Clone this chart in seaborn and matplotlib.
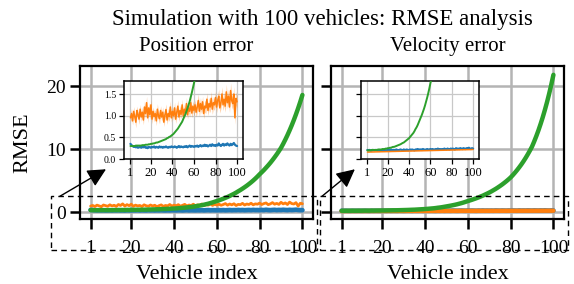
import numpy as np
import pandas as pd
import matplotlib
matplotlib.use("Agg")
import matplotlib.pyplot as plt
import seaborn as sns
from matplotlib.patches import Rectangle

# ---------------- data ----------------
vehicle_index = list(range(1, 101))
xtick_values = [1, 20, 40, 60, 80, 100]
ytick_values = [0, 10, 20]
inset_ytick_values = [0.0, 0.5, 1.0, 1.5]
series_names = ["Blue", "Orange", "Green"]

pos_blue = [0.35, 0.32, 0.30, 0.28, 0.29, 0.27, 0.28, 0.26, 0.27, 0.28,
            0.26, 0.28, 0.27, 0.29, 0.26, 0.27, 0.25, 0.28, 0.27, 0.26,
            0.28, 0.27, 0.29, 0.26, 0.28, 0.27, 0.26, 0.29, 0.27, 0.28,
            0.26, 0.28, 0.27, 0.29, 0.27, 0.26, 0.28, 0.27, 0.29, 0.28,
            0.27, 0.29, 0.28, 0.26, 0.28, 0.30, 0.27, 0.29, 0.28, 0.27,
            0.29, 0.28, 0.30, 0.27, 0.29, 0.31, 0.28, 0.30, 0.29, 0.28,
            0.30, 0.29, 0.31, 0.28, 0.30, 0.32, 0.29, 0.31, 0.30, 0.33,
            0.30, 0.32, 0.29, 0.31, 0.33, 0.30, 0.34, 0.31, 0.32, 0.30,
            0.33, 0.31, 0.36, 0.32, 0.30, 0.33, 0.35, 0.31, 0.34, 0.32,
            0.36, 0.33, 0.31, 0.35, 0.32, 0.34, 0.37, 0.33, 0.31, 0.30]

pos_orange = [0.95, 1.05, 0.88, 1.10, 0.98, 0.85, 1.12, 1.02, 0.92, 1.15,
              0.97, 1.08, 0.90, 1.20, 1.05, 1.30, 0.95, 1.18, 1.02, 1.25,
              0.92, 1.10, 0.98, 1.05, 0.88, 1.15, 1.00, 0.93, 1.12, 0.97,
              1.08, 0.85, 1.02, 1.14, 0.90, 1.05, 0.98, 1.20, 0.95, 1.10,
              1.00, 1.18, 0.92, 1.08, 1.22, 0.97, 1.12, 1.03, 1.25, 0.99,
              1.15, 1.05, 1.28, 1.02, 1.18, 1.10, 1.30, 1.06, 1.22, 1.12,
              1.25, 1.08, 1.20, 1.35, 1.10, 1.28, 1.15, 1.32, 1.05, 1.22,
              1.18, 1.38, 1.12, 1.28, 1.20, 1.40, 1.15, 1.30, 1.25, 1.42,
              1.20, 1.35, 1.45, 1.18, 1.30, 1.50, 1.25, 1.38, 1.22, 1.55,
              1.30, 1.45, 1.20, 1.58, 1.35, 1.28, 1.50, 0.95, 1.40, 1.32]

pos_orange_ci = [0.10, 0.12, 0.09, 0.11, 0.10, 0.13, 0.10, 0.09, 0.12, 0.11,
                 0.10, 0.12, 0.11, 0.14, 0.10, 0.15, 0.11, 0.12, 0.10, 0.13,
                 0.11, 0.10, 0.12, 0.09, 0.11, 0.13, 0.10, 0.12, 0.11, 0.10,
                 0.12, 0.10, 0.11, 0.13, 0.10, 0.12, 0.11, 0.14, 0.10, 0.12,
                 0.11, 0.13, 0.10, 0.12, 0.14, 0.11, 0.12, 0.10, 0.13, 0.11,
                 0.12, 0.11, 0.14, 0.10, 0.12, 0.13, 0.15, 0.11, 0.12, 0.13,
                 0.12, 0.11, 0.13, 0.15, 0.12, 0.14, 0.11, 0.13, 0.12, 0.14,
                 0.13, 0.15, 0.12, 0.14, 0.13, 0.16, 0.12, 0.14, 0.13, 0.15,
                 0.13, 0.14, 0.16, 0.12, 0.14, 0.17, 0.13, 0.15, 0.14, 0.18,
                 0.14, 0.16, 0.13, 0.18, 0.15, 0.14, 0.17, 0.15, 0.16, 0.14]

pos_green = [0.30, 0.30, 0.30, 0.30, 0.30, 0.31, 0.31, 0.31, 0.31, 0.31,
             0.31, 0.32, 0.32, 0.32, 0.33, 0.33, 0.33, 0.34, 0.34, 0.35,
             0.35, 0.36, 0.36, 0.37, 0.38, 0.38, 0.39, 0.40, 0.41, 0.42,
             0.43, 0.44, 0.45, 0.46, 0.48, 0.49, 0.51, 0.52, 0.54, 0.56,
             0.58, 0.61, 0.64, 0.67, 0.70, 0.74, 0.78, 0.82, 0.86, 0.92,
             0.98, 1.03, 1.10, 1.17, 1.25, 1.33, 1.43, 1.53, 1.64, 1.75,
             1.86, 1.99, 2.12, 2.26, 2.40, 2.56, 2.73, 2.90, 3.09, 3.30,
             3.50, 3.72, 3.95, 4.19, 4.45, 4.72, 5.01, 5.32, 5.65, 6.00,
             6.33, 6.67, 7.04, 7.42, 7.82, 8.25, 8.70, 9.17, 9.67, 10.20,
             10.83, 11.50, 12.21, 12.97, 13.77, 14.62, 15.53, 16.49, 17.51, 18.60]

vel_blue = [0.21, 0.20, 0.21, 0.20, 0.19, 0.21, 0.20, 0.20, 0.21, 0.20,
            0.20, 0.21, 0.20, 0.19, 0.21, 0.20, 0.21, 0.20, 0.20, 0.21,
            0.21, 0.20, 0.22, 0.20, 0.21, 0.21, 0.20, 0.22, 0.21, 0.20,
            0.21, 0.22, 0.21, 0.20, 0.22, 0.21, 0.21, 0.22, 0.20, 0.21,
            0.22, 0.21, 0.22, 0.21, 0.20, 0.22, 0.21, 0.23, 0.21, 0.22,
            0.22, 0.21, 0.23, 0.22, 0.21, 0.22, 0.23, 0.22, 0.21, 0.23,
            0.22, 0.23, 0.22, 0.21, 0.23, 0.22, 0.24, 0.22, 0.23, 0.22,
            0.23, 0.22, 0.24, 0.23, 0.22, 0.24, 0.23, 0.22, 0.24, 0.23,
            0.24, 0.23, 0.22, 0.25, 0.23, 0.24, 0.23, 0.25, 0.24, 0.23,
            0.25, 0.24, 0.23, 0.25, 0.24, 0.26, 0.24, 0.23, 0.25, 0.24]

vel_orange = [0.160, 0.160, 0.161, 0.162, 0.162, 0.163, 0.163, 0.164, 0.165, 0.165,
              0.166, 0.166, 0.167, 0.168, 0.168, 0.169, 0.169, 0.170, 0.171, 0.171,
              0.172, 0.172, 0.173, 0.174, 0.174, 0.175, 0.175, 0.176, 0.177, 0.177,
              0.178, 0.178, 0.179, 0.180, 0.180, 0.181, 0.181, 0.182, 0.183, 0.183,
              0.184, 0.184, 0.185, 0.186, 0.186, 0.187, 0.187, 0.188, 0.189, 0.189,
              0.190, 0.190, 0.191, 0.192, 0.192, 0.193, 0.193, 0.194, 0.195, 0.195,
              0.196, 0.196, 0.197, 0.198, 0.198, 0.199, 0.199, 0.200, 0.201, 0.201,
              0.202, 0.202, 0.203, 0.204, 0.204, 0.205, 0.205, 0.206, 0.207, 0.207,
              0.208, 0.208, 0.209, 0.210, 0.210, 0.211, 0.211, 0.212, 0.213, 0.213,
              0.214, 0.214, 0.215, 0.216, 0.216, 0.217, 0.217, 0.218, 0.219, 0.220]

vel_green = [0.20, 0.20, 0.20, 0.20, 0.21, 0.21, 0.21, 0.21, 0.21, 0.21,
             0.22, 0.22, 0.22, 0.22, 0.23, 0.23, 0.23, 0.24, 0.24, 0.25,
             0.25, 0.26, 0.26, 0.27, 0.28, 0.28, 0.29, 0.30, 0.31, 0.32,
             0.33, 0.34, 0.355, 0.37, 0.38, 0.40, 0.42, 0.44, 0.46, 0.48,
             0.51, 0.54, 0.57, 0.60, 0.64, 0.69, 0.73, 0.78, 0.84, 0.90,
             0.96, 1.02, 1.09, 1.16, 1.24, 1.33, 1.42, 1.52, 1.63, 1.75,
             1.85, 1.96, 2.08, 2.20, 2.33, 2.47, 2.61, 2.77, 2.93, 3.10,
             3.28, 3.48, 3.68, 3.90, 4.13, 4.37, 4.63, 4.90, 5.19, 5.50,
             5.86, 6.25, 6.66, 7.10, 7.56, 8.06, 8.59, 9.16, 9.76, 10.40,
             11.20, 12.06, 12.98, 13.98, 15.05, 16.21, 17.45, 18.79, 20.24, 21.80]

suptitle_text = "Simulation with 100 vehicles: RMSE analysis"
panel_titles = ["Position error", "Velocity error"]
xlabel_text = "Vehicle index"
ylabel_text = "RMSE"

# ---------------- style ----------------
sns.set_theme(style="ticks")
plt.rcParams["font.family"] = ["Liberation Serif", "DejaVu Serif"]
plt.rcParams["mathtext.fontset"] = "stix"
for key in ["text.color", "axes.labelcolor", "xtick.color", "ytick.color"]:
    plt.rcParams[key] = "black"

colors = {"Blue": "#1f77b4", "Orange": "#ff7f0e", "Green": "#2ca02c"}

fig = plt.figure(figsize=(5.74, 2.84), dpi=100)
axL = fig.add_axes([0.1394, 0.2289, 0.4059, 0.5387])
axR = fig.add_axes([0.5767, 0.2289, 0.4059, 0.5387], sharey=axL)
insL = fig.add_axes([0.2160, 0.4401, 0.2073, 0.2746])
insR = fig.add_axes([0.6289, 0.4401, 0.2056, 0.2746], sharey=insL)

panels = [
    (axL, insL, pos_blue, pos_orange, pos_green, pos_orange_ci),
    (axR, insR, vel_blue, vel_orange, vel_green, None),
]


def draw_lines(ax, blue, orange, green, ci, lws):
    df = pd.DataFrame({"idx": vehicle_index, "Blue": blue,
                       "Orange": orange, "Green": green})
    if ci is not None:
        lo = [o - c for o, c in zip(orange, ci)]
        hi = [o + c for o, c in zip(orange, ci)]
        ax.fill_between(vehicle_index, lo, hi, color=colors["Orange"],
                        alpha=0.35, lw=0, zorder=2)
    for name, lw in zip(series_names, lws):
        sns.lineplot(data=df, x="idx", y=name, ax=ax, color=colors[name],
                     lw=lw, zorder=3)


for k, (ax, ins, b, o, g, ci) in enumerate(panels):
    orange_lw = 2.0 if k == 0 else 3.2
    draw_lines(ax, b, o, g, None, [3.4, orange_lw, 3.2])
    ax.set_xticks(xtick_values)
    ax.set_yticks(ytick_values)
    ax.grid(True, color="#b4b4b4", lw=1.8)
    ax.set_axisbelow(True)
    for s in ax.spines.values():
        s.set_linewidth(1.6)
        s.set_color("black")
    ax.tick_params(axis="both", which="major", length=7, width=1.8,
                   labelsize=14, color="black", pad=3)
    ax.tick_params(axis="x", pad=8)
    ax.set_xlabel(xlabel_text, fontsize=16, labelpad=6)
    ax.set_title(panel_titles[k], fontsize=15, pad=11)
    ax.set_xlim(-3.95, 104.95)
    if k == 0:
        ax.set_ylabel(ylabel_text, fontsize=16, labelpad=10)
    else:
        ax.set_ylabel("")
        plt.setp(ax.get_yticklabels(), visible=False)

    # inset
    draw_lines(ins, b, o, g, ci, [1.6, 1.1, 1.4])
    ins.set_xticks(xtick_values)
    ins.set_yticks(inset_ytick_values)
    ins.set_ylim(0, 1.8)
    ins.set_xlim(-5, 105.5)
    ins.set_xlabel("")
    ins.set_ylabel("")
    ins.grid(True, color="#c8c8c8", lw=0.9)
    ins.set_axisbelow(True)
    for s in ins.spines.values():
        s.set_linewidth(1.1)
        s.set_color("black")
    ins.tick_params(axis="x", length=3.5, width=0.9, labelsize=9, pad=2)
    ins.tick_params(axis="y", length=3.5, width=0.9, labelsize=7, pad=2)
    if k == 1:
        plt.setp(ins.get_yticklabels(), visible=False)

axL.set_ylim(-1.1, 23.2)

# dashed zoom rectangles and arrows (data coords of each main axes)
rects = [(-17.6, -6.1, 124.2, 8.6), (-9.2, -6.1, 116.2, 8.6)]
arrows = [((-13.4, 2.5), (8.2, 6.8)), ((-8.2, 2.5), (7.2, 6.8))]
for ax, (rx, ry, rw, rh), (start, end) in zip([axL, axR], rects, arrows):
    r = Rectangle((rx, ry), rw, rh, fill=False, ls=(0, (4, 3)), lw=1.0,
                  ec="black", clip_on=False, zorder=6)
    ax.add_patch(r)
    ax.annotate("", xy=end, xytext=start, xycoords="data",
                textcoords="data", annotation_clip=False,
                arrowprops=dict(arrowstyle="-|>", mutation_scale=28,
                                color="black", lw=1.0, shrinkA=0, shrinkB=0),
                zorder=7)

fig.suptitle(suptitle_text, x=0.561, y=0.97, fontsize=16.5)

fig.savefig("out.png", dpi=100)
